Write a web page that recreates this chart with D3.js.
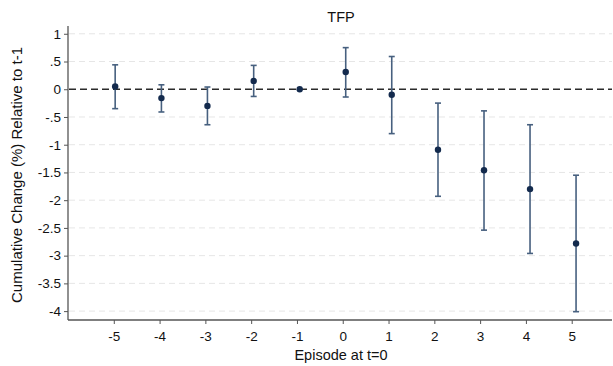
<!DOCTYPE html>
<html>
<head>
<meta charset="utf-8">
<script src="https://cdn.jsdelivr.net/npm/d3@7"></script>
<style>
  html, body { margin: 0; padding: 0; background: #fff; }
  svg { display: block; font-family: "Liberation Sans", Arial, Helvetica, sans-serif; }
</style>
</head>
<body>
<svg id="chart" width="613" height="366"></svg>
<script>
// Event-study estimates for TFP, by episode year relative to t=0
const episodes  = [-5, -4, -3, -2, -1, 0, 1, 2, 3, 4, 5];
// marker positions on the episode axis (slightly offset from the integer ticks)
const markerPos = [-4.97, -3.96, -2.955, -1.945, -0.94, 0.065, 1.07, 2.08, 3.085, 4.09, 5.095];
const estimate  = [0.05, -0.16, -0.30, 0.15, 0, 0.31, -0.10, -1.09, -1.46, -1.80, -2.78];
const ciLow     = [-0.35, -0.41, -0.64, -0.13, null, -0.14, -0.80, -1.93, -2.54, -2.96, -4.01];
const ciHigh    = [0.44, 0.08, 0.04, 0.43, null, 0.75, 0.59, -0.25, -0.39, -0.64, -1.55];
const yTicks      = [1, 0.5, 0, -0.5, -1, -1.5, -2, -2.5, -3, -3.5, -4];
const yTickLabels = ["1", ".5", "0", "-.5", "-1", "-1.5", "-2", "-2.5", "-3", "-3.5", "-4"];

const svg = d3.select("#chart");
const plotL = 68, plotR = 612, plotT = 26, plotB = 320;

const x = d3.scaleLinear().domain([-6, 5.88]).range([plotL, plotR]);
const y = d3.scaleLinear().domain([-4.16, 1.14]).range([plotB, plotT]);

// horizontal grid lines
svg.append("g").selectAll("line").data(yTicks.filter(v => v !== 0)).join("line")
  .attr("x1", plotL + 1).attr("x2", plotR)
  .attr("y1", d => y(d)).attr("y2", d => y(d))
  .attr("stroke", "#e6e6e6").attr("stroke-width", 1)
  .attr("stroke-dasharray", "6,4");

// zero reference line
svg.append("line")
  .attr("x1", plotL + 1).attr("x2", plotR)
  .attr("y1", y(0)).attr("y2", y(0))
  .attr("stroke", "#2b2b2b").attr("stroke-width", 1.4)
  .attr("stroke-dasharray", "7,4");

// y axis
const yAxis = d3.axisLeft(y).tickValues(yTicks)
  .tickFormat((d, i) => yTickLabels[i]).tickSize(4).tickPadding(3);
const gy = svg.append("g").attr("transform", `translate(${plotL},0)`).call(yAxis);
gy.select(".domain").attr("d", `M0,${plotT}V${plotB}`).attr("stroke", "#555").attr("stroke-width", 1.3);
gy.selectAll(".tick line").attr("stroke", "#555");
gy.selectAll(".tick text").attr("font-size", 13.5).attr("fill", "#111")
  .attr("font-family", "'Liberation Sans', Arial, sans-serif");

// x axis (plain hyphen for negative labels)
const xAxis = d3.axisBottom(x).tickValues(episodes).tickFormat(d => String(d)).tickSize(4).tickPadding(7);
const gx = svg.append("g").attr("transform", `translate(0,${plotB})`).call(xAxis);
gx.select(".domain").attr("d", `M${plotL},0H${plotR}`).attr("stroke", "#555").attr("stroke-width", 1.3);
gx.selectAll(".tick line").attr("stroke", "#555");
gx.selectAll(".tick text").attr("font-size", 13.5).attr("fill", "#111")
  .attr("font-family", "'Liberation Sans', Arial, sans-serif");

// confidence intervals
const rows = episodes.map((e, i) => ({ e, xp: markerPos[i], est: estimate[i], lo: ciLow[i], hi: ciHigh[i] }));
const ci = svg.append("g").selectAll("g").data(rows.filter(d => d.lo !== null)).join("g")
  .attr("stroke", "#47607f").attr("stroke-width", 1.6);
ci.append("line").attr("x1", d => x(d.xp)).attr("x2", d => x(d.xp))
  .attr("y1", d => y(d.lo)).attr("y2", d => y(d.hi));
ci.append("line").attr("x1", d => x(d.xp) - 3).attr("x2", d => x(d.xp) + 3)
  .attr("y1", d => y(d.lo)).attr("y2", d => y(d.lo));
ci.append("line").attr("x1", d => x(d.xp) - 3).attr("x2", d => x(d.xp) + 3)
  .attr("y1", d => y(d.hi)).attr("y2", d => y(d.hi));

// point estimates
svg.append("g").selectAll("circle").data(rows).join("circle")
  .attr("cx", d => x(d.xp)).attr("cy", d => y(d.est)).attr("r", 3.2)
  .attr("fill", "#132a4d");

// title and axis titles
svg.append("text").attr("x", 341).attr("y", 22).attr("text-anchor", "middle")
  .attr("font-size", 14.5).attr("fill", "#111").text("TFP");
svg.append("text").attr("x", 341).attr("y", 360).attr("text-anchor", "middle")
  .attr("font-size", 14.5).attr("fill", "#111").text("Episode at t=0");
svg.append("text").attr("transform", `translate(22,${(plotT + plotB) / 2 + 2}) rotate(-90)`)
  .attr("text-anchor", "middle").attr("font-size", 15).attr("fill", "#111")
  .text("Cumulative Change (%) Relative to t-1");
</script>
</body>
</html>
